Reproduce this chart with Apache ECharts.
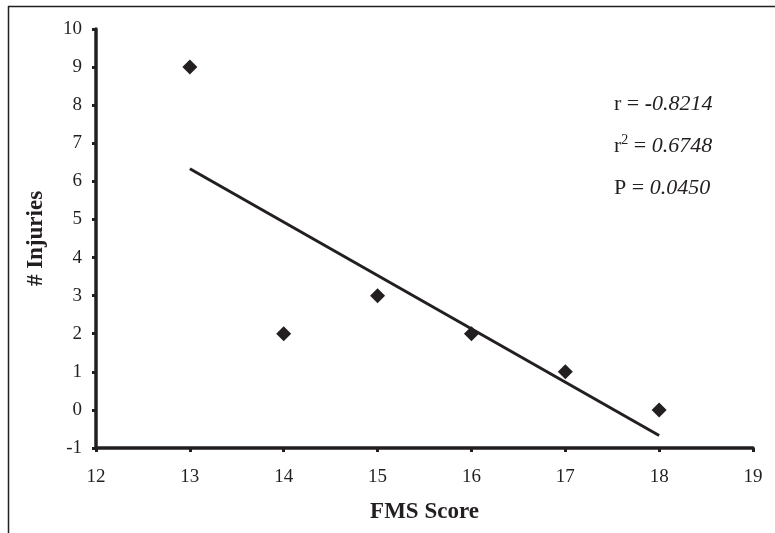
<!DOCTYPE html>
<html>
<head>
<meta charset="utf-8">
<script src="https://cdn.jsdelivr.net/npm/echarts@6/dist/echarts.min.js"></script>
<style>html,body{margin:0;padding:0;background:#fff}#c{width:775px;height:533px}</style>
</head>
<body>
<div id="c"></div>
<script>
const fmsScores = [13, 14, 15, 16, 17, 18];
const injuries = [9, 2, 3, 2, 1, 0];
const trendX = [13, 18];
const trendY = [6.33, -0.67];
const xTicks = [12, 13, 14, 15, 16, 17, 18, 19];
const yTicks = [-1, 0, 1, 2, 3, 4, 5, 6, 7, 8, 9, 10];
const stats = { r: '0.8214', r2: '0.6748', p: '0.0450' };

const font = '"Liberation Serif", "DejaVu Serif", serif';
const ink = '#231f20';
const chart = echarts.init(document.getElementById('c'));
chart.setOption({
  animation: false,
  backgroundColor: '#fff',
  grid: { left: 96, right: 22, top: 29, bottom: 85, containLabel: false },
  xAxis: {
    type: 'value', min: xTicks[0], max: xTicks[xTicks.length - 1], interval: 1,
    name: 'FMS Score', nameLocation: 'middle', nameGap: 53,
    nameTextStyle: { fontFamily: font, fontSize: 23, fontWeight: 'bold', color: ink },
    axisLine: { onZero: false, lineStyle: { color: ink, width: 3.5 } },
    axisTick: { show: true, length: 4, lineStyle: { color: ink, width: 3 } },
    axisLabel: { margin: 20, fontFamily: font, fontSize: 19, color: ink },
    splitLine: { show: false }
  },
  yAxis: {
    type: 'value', min: yTicks[0], max: yTicks[yTicks.length - 1], interval: 1,
    name: '# Injuries', nameLocation: 'middle', nameGap: 48, nameRotate: 90,
    nameTextStyle: { fontFamily: font, fontSize: 23, fontWeight: 'bold', color: ink },
    axisLine: { show: true, onZero: false, lineStyle: { color: ink, width: 3.5 } },
    axisTick: { show: true, length: 4, lineStyle: { color: ink, width: 3 } },
    axisLabel: { margin: 14, fontFamily: font, fontSize: 19, color: ink },
    splitLine: { show: false }
  },
  series: [
    {
      type: 'line', data: trendX.map((x, i) => [x, trendY[i]]),
      symbol: 'none', lineStyle: { color: ink, width: 3 }, z: 2
    },
    {
      type: 'scatter', data: fmsScores.map((x, i) => [x, injuries[i]]),
      symbol: 'diamond', symbolSize: [15, 15], itemStyle: { color: ink, opacity: 1 }, z: 3
    }
  ],
  graphic: [
    { type: 'line', shape: { x1: 8, y1: 6.5, x2: 775, y2: 6.5 }, style: { stroke: ink, lineWidth: 1.5 } },
    { type: 'line', shape: { x1: 8.5, y1: 6, x2: 8.5, y2: 533 }, style: { stroke: ink, lineWidth: 1.5 } },
    {
      type: 'text', left: 614, top: 93,
      style: {
        text: '{n|r = }{m|-}{i|' + stats.r + '}',
        rich: {
          n: { fontFamily: font, fontSize: 22, fill: ink },
          m: { fontFamily: font, fontSize: 22, fill: ink, fontWeight: 'bold' },
          i: { fontFamily: font, fontSize: 22, fill: ink, fontStyle: 'italic' }
        }
      }
    },
    {
      type: 'text', left: 614, top: 133,
      style: {
        text: '{n|r}{s|2}{n| = }{i|' + stats.r2 + '}',
        rich: {
          n: { fontFamily: font, fontSize: 22, fill: ink, verticalAlign: 'bottom' },
          s: { fontFamily: font, fontSize: 14, fill: ink, verticalAlign: 'top', padding: [0, 0, 10, 0] },
          i: { fontFamily: font, fontSize: 22, fill: ink, fontStyle: 'italic', verticalAlign: 'bottom' }
        }
      }
    },
    {
      type: 'text', left: 614, top: 177,
      style: {
        text: '{n|P = }{i|' + stats.p + '}',
        rich: {
          n: { fontFamily: font, fontSize: 22, fill: ink },
          i: { fontFamily: font, fontSize: 22, fill: ink, fontStyle: 'italic' }
        }
      }
    }
  ]
});
</script>
</body>
</html>
